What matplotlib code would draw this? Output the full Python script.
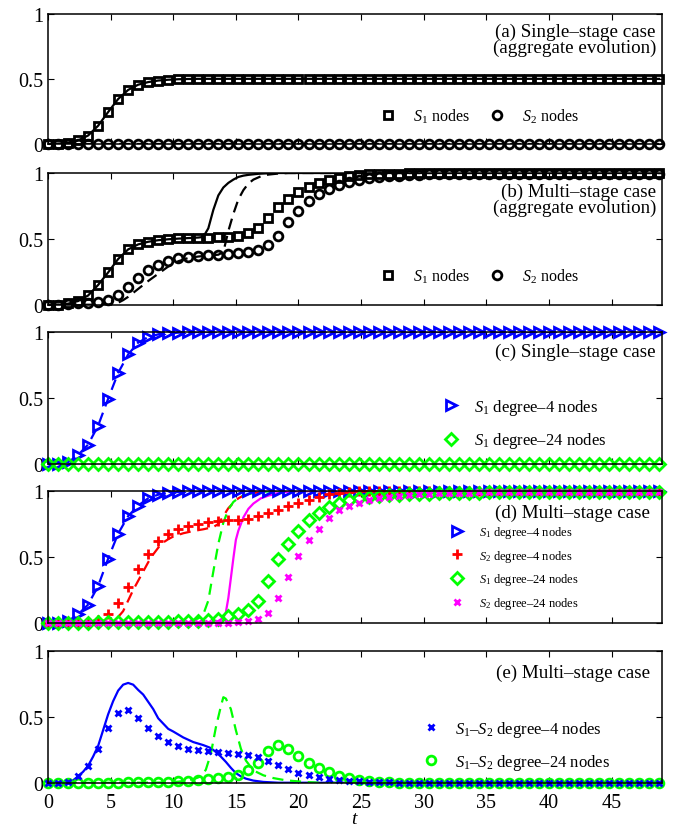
import numpy as np
import matplotlib
matplotlib.use("Agg")
import matplotlib.pyplot as plt
from matplotlib import rcParams

rcParams.update({
    'font.family': 'serif',
    'font.serif': ['Liberation Serif', 'DejaVu Serif'],
    'mathtext.fontset': 'custom',
    'mathtext.rm': 'Liberation Serif',
    'mathtext.it': 'Liberation Serif:italic',
    'axes.linewidth': 1.1,
    'xtick.direction': 'in',
    'ytick.direction': 'in',
    'xtick.top': True,
    'ytick.right': True,
    'xtick.major.size': 4.5,
    'ytick.major.size': 4.5,
    'xtick.major.width': 0.8,
    'ytick.major.width': 0.8,
    'xtick.labelsize': 14.5,
    'ytick.labelsize': 14.5,
})

# sample times of the simulation markers
t = np.arange(62) * 0.8

# (a) single-stage, aggregate
a_s1 = [0, 0.003, 0.01, 0.027, 0.065, 0.14, 0.245, 0.345, 0.415, 0.455, 0.475,
        0.487, 0.493, 0.497, 0.499] + [0.5] * 47
a_s2 = [0.0] * 62

# (b) multi-stage, aggregate
b_s1 = [0, 0, 0.01, 0.03, 0.073, 0.15, 0.245, 0.347, 0.42, 0.458, 0.478, 0.49,
        0.498, 0.503, 0.506, 0.507, 0.509, 0.511, 0.515, 0.525, 0.545, 0.585,
        0.66, 0.74, 0.80, 0.853, 0.89, 0.924, 0.947, 0.965, 0.977, 0.984,
        0.989, 0.992, 0.994, 0.996, 0.997, 0.998] + [0.999] * 24
b_s2 = [0, 0, 0.004, 0.01, 0.013, 0.018, 0.036, 0.074, 0.137, 0.203, 0.263,
        0.30, 0.334, 0.355, 0.366, 0.372, 0.377, 0.38, 0.385, 0.39, 0.398,
        0.418, 0.453, 0.524, 0.625, 0.714, 0.785, 0.84, 0.878, 0.91, 0.934,
        0.95, 0.96, 0.97, 0.975, 0.98, 0.985, 0.987, 0.989, 0.99, 0.991,
        0.992, 0.993, 0.994, 0.995] + [0.996] * 17
b_th1_t = [0, 0.8, 1.6, 2.4, 3.2, 4.0, 4.8, 5.6, 6.4, 7.2, 8.0, 8.8, 9.6, 10.4,
           11.2, 12.0, 12.4, 12.8, 13.2, 13.6, 14.0, 14.4, 14.8, 15.2, 15.6,
           16.0, 16.8, 17.6, 18.4, 49]
b_th1 = [0, 0, 0.008, 0.028, 0.07, 0.15, 0.245, 0.347, 0.42, 0.458, 0.478,
         0.49, 0.497, 0.502, 0.506, 0.51, 0.515, 0.58, 0.72, 0.83, 0.89, 0.925,
         0.95, 0.97, 0.98, 0.986, 0.994, 0.998, 1.0, 1.0]
b_th2_t = [0, 4.8, 5.2, 5.6, 6.0, 6.4, 6.8, 7.2, 7.6, 8.0, 8.8, 9.6, 10.4,
           11.2, 12.0, 12.8, 13.6, 14.0, 14.4, 14.8, 15.2, 15.6, 16.0, 16.4,
           17.0, 17.6, 18.4, 19.2, 49]
b_th2 = [0, 0, 0.005, 0.015, 0.035, 0.06, 0.09, 0.12, 0.15, 0.18, 0.235, 0.29,
         0.33, 0.355, 0.366, 0.373, 0.38, 0.40, 0.56, 0.69, 0.80, 0.87, 0.92,
         0.95, 0.975, 0.988, 0.996, 1.0, 1.0]

# (c) single-stage, by degree
c_s1d4 = [0, 0.003, 0.013, 0.068, 0.147, 0.29, 0.494, 0.69, 0.83, 0.92, 0.962,
          0.982, 0.99, 0.995, 0.998] + [1.0] * 47
c_s1d24 = [0.0] * 62

# (d) multi-stage, by degree
d_s1d4 = [0, 0.003, 0.015, 0.065, 0.139, 0.28, 0.487, 0.677, 0.81, 0.89,
          0.945, 0.972, 0.986, 0.993, 0.997] + [1.0] * 47
d_s2d4 = [0, 0, 0, 0.002, 0.008, 0.025, 0.068, 0.15, 0.27, 0.41, 0.52, 0.62,
          0.677, 0.715, 0.732, 0.747, 0.762, 0.77, 0.778, 0.78, 0.79, 0.81,
          0.83, 0.855, 0.885, 0.91, 0.935, 0.958, 0.975, 0.988, 0.995,
          0.998] + [1.0] * 30
d_s1d24 = [0, 0, 0, 0.002, 0.003, 0.004, 0.005, 0.005, 0.006, 0.007, 0.008,
           0.01, 0.011, 0.013, 0.015, 0.018, 0.022, 0.033, 0.05, 0.07, 0.096,
           0.17, 0.32, 0.487, 0.60, 0.70, 0.778, 0.833, 0.879, 0.909, 0.93,
           0.945, 0.955, 0.962, 0.968, 0.972, 0.976, 0.979, 0.981, 0.983,
           0.985, 0.986, 0.987, 0.988, 0.989] + [0.99] * 17
d_s2d24 = [0.0] * 18 + [0.002, 0.005, 0.015, 0.03, 0.078, 0.192, 0.352, 0.508,
                        0.63, 0.715, 0.792, 0.853, 0.885, 0.91, 0.93, 0.945,
                        0.955, 0.963, 0.97, 0.975, 0.979, 0.982, 0.985, 0.987,
                        0.988, 0.989] + [0.99] * 18
d_th2d4_t = [0, 4.4, 4.8, 5.2, 5.6, 6.0, 6.4, 6.8, 7.2, 7.6, 8.0, 8.4, 8.8,
             9.2, 9.6, 10.0, 10.8, 11.6, 12.4, 13.2, 13.6, 14.0, 14.4, 14.8,
             15.2, 15.6, 16.4, 17.2, 18.0, 49]
d_th2d4 = [0, 0, 0.005, 0.02, 0.045, 0.09, 0.17, 0.25, 0.32, 0.39, 0.46, 0.52,
           0.57, 0.61, 0.635, 0.655, 0.68, 0.697, 0.71, 0.727, 0.75, 0.81,
           0.87, 0.91, 0.945, 0.965, 0.985, 0.995, 1.0, 1.0]
d_th1d24_t = [0, 9.6, 10.4, 11.2, 11.6, 12.0, 12.4, 12.8, 13.2, 13.6, 14.0,
              14.4, 14.8, 15.2, 15.6, 16.4, 17.2, 18.0, 49]
d_th1d24 = [0, 0.005, 0.008, 0.015, 0.022, 0.035, 0.065, 0.17, 0.39, 0.6,
            0.76, 0.86, 0.917, 0.947, 0.967, 0.985, 0.995, 1.0, 1.0]
d_th2d24_t = [0, 13.2, 13.6, 14.0, 14.2, 14.4, 14.6, 14.8, 15.0, 15.2, 15.6,
              16.0, 16.4, 17.0, 17.6, 18.4, 19.2, 20.0, 49]
d_th2d24 = [0, 0.005, 0.015, 0.04, 0.08, 0.19, 0.34, 0.49, 0.63, 0.70, 0.80,
            0.865, 0.905, 0.945, 0.965, 0.985, 0.995, 1.0, 1.0]

# (e) multi-stage, S1-S2 difference
e_d4 = [0, 0, 0.005, 0.055, 0.126, 0.258, 0.414, 0.53, 0.553, 0.493, 0.42,
        0.354, 0.307, 0.278, 0.261, 0.249, 0.24, 0.231, 0.228, 0.222, 0.211,
        0.194, 0.17, 0.14, 0.105, 0.078, 0.06, 0.043, 0.032, 0.025, 0.018,
        0.013, 0.009, 0.006, 0.004, 0.003, 0.002] + [0.0] * 25
e_d24 = [0, 0, 0, 0.001, 0.001, 0.002, 0.002, 0.003, 0.004, 0.005, 0.006,
         0.008, 0.01, 0.014, 0.018, 0.022, 0.027, 0.034, 0.045, 0.062, 0.095,
         0.155, 0.24, 0.285, 0.26, 0.205, 0.148, 0.116, 0.083, 0.056, 0.037,
         0.02, 0.013, 0.008, 0.005, 0.003, 0.002] + [0.0] * 25
e_th4_t = [0, 1.2, 1.6, 2.0, 2.4, 2.8, 3.2, 3.6, 4.0, 4.4, 4.8, 5.2, 5.6, 6.0,
           6.4, 6.8, 7.2, 7.6, 8.0, 8.4, 8.8, 9.2, 9.6, 10.0, 10.8, 11.6, 12.4,
           13.0, 13.4, 13.8, 14.2, 14.6, 15.0, 15.4, 15.8, 16.4, 17.2, 18.4, 49]
e_th4 = [0, 0, 0.005, 0.02, 0.05, 0.085, 0.13, 0.2, 0.28, 0.4, 0.52, 0.62,
         0.70, 0.745, 0.758, 0.745, 0.705, 0.67, 0.615, 0.56, 0.49, 0.45, 0.41,
         0.39, 0.345, 0.31, 0.287, 0.265, 0.235, 0.2, 0.16, 0.115, 0.075,
         0.05, 0.033, 0.018, 0.008, 0.002, 0.0]
e_th24_t = [0, 8.8, 9.6, 10.4, 11.2, 11.8, 12.2, 12.6, 13.0, 13.4, 13.8, 14.0,
            14.2, 14.6, 15.0, 15.4, 15.8, 16.4, 17.2, 18.0, 19.0, 20.5, 22, 49]
e_th24 = [0, 0.003, 0.006, 0.01, 0.02, 0.035, 0.05, 0.1, 0.22, 0.42, 0.58,
          0.65, 0.64, 0.56, 0.4, 0.26, 0.17, 0.095, 0.058, 0.037, 0.02, 0.008,
          0.0, 0.0]

GREEN = '#00ff00'
MAGENTA = '#ff00ff'

fig = plt.figure(figsize=(6.79, 8.29), dpi=100)

# axes rectangles (left, bottom, width, height) in figure fraction
rects = [(0.0707, 0.8251, 0.9038, 0.1572),
         (0.0707, 0.6312, 0.9038, 0.1589),
         (0.0707, 0.4391, 0.9038, 0.1592),
         (0.0707, 0.2473, 0.9038, 0.1592),
         (0.0707, 0.0543, 0.9038, 0.1592)]
axes = [fig.add_axes(r) for r in rects]

mk = dict(linestyle='none', clip_on=False, mew=2.0, mfc='none')
dash = dict(linestyle=(0, (5, 3)), lw=1.6)
TFS = 13.7  # panel caption size


def caption(ax, lines, x, ys):
    for s, y in zip(lines, ys):
        ax.text(x, y, s, transform=ax.transAxes, ha='right', va='center',
                fontsize=TFS)


# (a)
ax = axes[0]
ax.plot(t, a_s1, '-', color='k', lw=1.6)
ax.plot(t, a_s2, color='k', **dash)
h1, = ax.plot(t, a_s1, marker='s', ms=5.5, mec='k', **mk)
h2, = ax.plot(t, a_s2, marker='o', ms=6.3, mec='k', **mk)
ax.legend([h1, h2], ['$S_1$ nodes', '$S_2$ nodes'], loc='center left',
          bbox_to_anchor=(0.5416, 0.215), ncol=2, frameon=False, fontsize=11.5,
          handlelength=1.0, handletextpad=1.05, columnspacing=1.2,
          borderpad=0, borderaxespad=0, numpoints=1)
caption(ax, ['(a) Single\u2013stage case', '(aggregate evolution)'],
        0.9907, [0.867, 0.744])

# (b)
ax = axes[1]
ax.plot(b_th1_t, b_th1, '-', color='k', lw=1.6)
ax.plot(b_th2_t, b_th2, color='k', **dash)
h1, = ax.plot(t, b_s1, marker='s', ms=5.5, mec='k', **mk)
h2, = ax.plot(t, b_s2, marker='o', ms=6.3, mec='k', **mk)
ax.legend([h1, h2], ['$S_1$ nodes', '$S_2$ nodes'], loc='center left',
          bbox_to_anchor=(0.5416, 0.22), ncol=2, frameon=False, fontsize=11.5,
          handlelength=1.0, handletextpad=1.05, columnspacing=1.2,
          borderpad=0, borderaxespad=0, numpoints=1)
caption(ax, ['(b) Multi\u2013stage case', '(aggregate evolution)'],
        0.9907, [0.863, 0.74])

# (c)
ax = axes[2]
ax.plot(t, c_s1d4, color='b', **dash)
h1, = ax.plot(t, c_s1d4, marker='>', ms=7.5, mec='b', **mk)
h2, = ax.plot(t, c_s1d24, marker='D', ms=6.2, mec=GREEN, **mk)
ax.legend([h1, h2], ['$S_1$ degree\u20134 nodes', '$S_1$ degree\u201324 nodes'],
          loc='center left', bbox_to_anchor=(0.643, 0.305), frameon=False,
          fontsize=12, handlelength=1.0, handletextpad=0.9,
          labelspacing=0.8, borderpad=0, borderaxespad=0, numpoints=1)
caption(ax, ['(c) Single\u2013stage case'], 0.9907, [0.856])

# (d)
ax = axes[3]
ax.plot(t, d_s1d4, color='b', **dash)
ax.plot(d_th2d4_t, d_th2d4, color='r', **dash)
ax.plot(d_th1d24_t, d_th1d24, color=GREEN, **dash)
ax.plot(d_th2d24_t, d_th2d24, '-', color=MAGENTA, lw=1.6)
h1, = ax.plot(t, d_s1d4, marker='>', ms=7.5, mec='b', **mk)
h2, = ax.plot(t, d_s2d4, marker='+', ms=7.5, mec='r', **mk)
h3, = ax.plot(t, d_s1d24, marker='D', ms=6.2, mec=GREEN, **mk)
h4, = ax.plot(t, d_s2d24, marker='x', ms=5, mec=MAGENTA, **mk)
ax.legend([h1, h2, h3, h4],
          ['$S_1$ degree\u20134 nodes', '$S_2$ degree\u20134 nodes',
           '$S_1$ degree\u201324 nodes', '$S_2$ degree\u201324 nodes'],
          loc='center left', bbox_to_anchor=(0.657, 0.42), frameon=False,
          fontsize=9, handlelength=1.0, handletextpad=1.2,
          labelspacing=0.62, borderpad=0, borderaxespad=0, numpoints=1)
caption(ax, ['(d) Multi\u2013stage case'], 0.981, [0.84])

# (e)
ax = axes[4]
ax.plot(e_th4_t, e_th4, '-', color='b', lw=1.6)
ax.plot(e_th24_t, e_th24, color=GREEN, **dash)
h2, = ax.plot(t, e_d24, marker='o', ms=6.3, mec=GREEN, **mk)
h1, = ax.plot(t, e_d4, marker='x', ms=4.8, mec='b', **mk)
ax.legend([h1, h2], ['$S_1$\u2013$S_2$ degree\u20134 nodes',
                     '$S_1$\u2013$S_2$ degree\u201324 nodes'],
          loc='center left', bbox_to_anchor=(0.61, 0.285), frameon=False,
          fontsize=12, handlelength=1.0, handletextpad=0.95,
          labelspacing=0.8, borderpad=0, borderaxespad=0, numpoints=1)
caption(ax, ['(e) Multi\u2013stage case'], 0.981, [0.84])
ax.set_xlabel('$t$', fontsize=14, labelpad=-1)

for i, ax in enumerate(axes):
    ax.set_xlim(0, 49)
    ax.set_ylim(0, 1)
    ax.set_xticks(np.arange(0, 50, 5))
    ax.set_yticks([0, 0.5, 1])
    ax.set_yticklabels(['0', '0.5', '1'])
    ax.tick_params(axis='y', pad=3.5)
    ax.tick_params(axis='x', pad=7)
    if i < 4:
        ax.set_xticklabels([])

plt.savefig('out.png', dpi=100)
